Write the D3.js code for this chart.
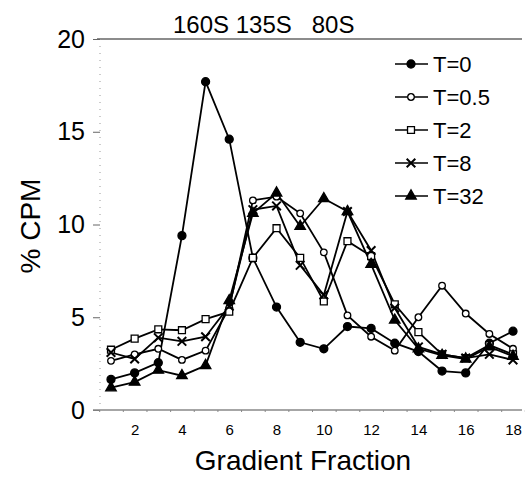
<!DOCTYPE html>
<html>
<head>
<meta charset="utf-8">
<script src="https://cdn.jsdelivr.net/npm/d3@7"></script>
<style>
  body { margin: 0; background: #fff; }
  svg { font-family: "Liberation Sans", Arial, sans-serif; }
</style>
</head>
<body>
<div id="vis"></div>
<script>
const fractions = [1, 2, 3, 4, 5, 6, 7, 8, 9, 10, 11, 12, 13, 14, 15, 16, 17, 18];
const t0   = [1.65, 2.0, 2.55, 9.4, 17.7, 14.6, 8.2, 5.55, 3.65, 3.3, 4.5, 4.4, 3.6, 3.15, 2.1, 2.0, 3.6, 4.25];
const t05  = [2.65, 3.0, 3.3, 2.7, 3.2, 5.5, 11.3, 11.5, 10.6, 8.5, 5.1, 3.95, 3.2, 5.0, 6.7, 5.2, 4.1, 3.3];
const t2   = [3.25, 3.85, 4.35, 4.3, 4.9, 5.3, 8.2, 9.8, 8.2, 5.85, 9.1, 8.3, 5.7, 4.2, 3.0, 2.8, 3.5, 3.0];
const t8   = [3.1, 2.75, 3.9, 3.7, 3.95, 5.6, 10.8, 11.0, 7.8, 6.2, 10.7, 8.6, 5.5, 3.4, 3.0, 2.8, 3.0, 2.7];
const t32  = [1.2, 1.5, 2.15, 1.85, 2.4, 5.9, 10.6, 11.7, 9.9, 11.4, 10.7, 7.85, 4.85, 3.3, 2.95, 2.75, 3.4, 2.9];
const seriesNames = ['T=0', 'T=0.5', 'T=2', 'T=8', 'T=32'];
const yTicks = [0, 5, 10, 15, 20];
const xLabels = [2, 4, 6, 8, 10, 12, 14, 16, 18];
const peaks = ['160S', '135S', '80S'];

const width = 525;
const height = 477;

const svg = d3.select('#vis')
  .append('svg')
  .attr('width', width)
  .attr('height', height);

// scales
const x = d3.scaleLinear().domain([1, 18]).range([111, 513]);
const y = d3.scaleLinear().domain([0, 20]).range([410, 39]);

// frame lines
svg.append('line')
  .attr('x1', 97).attr('x2', 522)
  .attr('y1', y(20)).attr('y2', y(20))
  .attr('stroke', '#666').attr('stroke-width', 1.5);

svg.append('line')
  .attr('x1', 100).attr('x2', 100)
  .attr('y1', y(20)).attr('y2', y(0))
  .attr('stroke', '#999').attr('stroke-width', 1)
  .attr('stroke-dasharray', '1,6');

// y axis
const yAxis = svg.append('g')
  .attr('transform', 'translate(100,0)')
  .call(d3.axisLeft(y).tickValues(yTicks).tickSize(7).tickPadding(8));
yAxis.select('.domain').remove();
yAxis.selectAll('line').attr('stroke', '#666');
yAxis.selectAll('text')
  .attr('font-size', 25)
  .attr('font-family', '"Liberation Sans", Arial, sans-serif')
  .attr('fill', '#000');

// x axis (ticks between fractions)
const halfTicks = d3.range(0.5, 19, 1);
const xAxis = svg.append('g')
  .attr('transform', 'translate(0,' + y(0) + ')')
  .call(d3.axisBottom(x).tickValues(halfTicks).tickSize(2).tickFormat(''));
xAxis.select('.domain')
  .attr('d', 'M93,0H522')
  .attr('stroke', '#888').attr('stroke-width', 1.5);
xAxis.selectAll('line').attr('stroke', '#888');

const xLab = svg.append('g')
  .attr('transform', 'translate(0,' + y(0) + ')')
  .call(d3.axisBottom(x).tickValues(xLabels).tickSize(0).tickPadding(14));
xLab.select('.domain').remove();
xLab.selectAll('text')
  .attr('font-size', 15)
  .attr('font-family', '"Liberation Sans", Arial, sans-serif')
  .attr('fill', '#000');

// axis titles
svg.append('text')
  .attr('x', 303).attr('y', 470)
  .attr('text-anchor', 'middle')
  .attr('font-size', 28)
  .text('Gradient Fraction');

svg.append('text')
  .attr('transform', 'translate(40,226) rotate(-90)')
  .attr('text-anchor', 'middle')
  .attr('font-size', 28)
  .text('% CPM');

// sedimentation markers along the top
svg.append('text')
  .attr('x', 173).attr('y', 33)
  .attr('font-size', 24)
  .attr('xml:space', 'preserve')
  .text(peaks[0] + ' ' + peaks[1] + '   ' + peaks[2]);

// marker styles
const symbols = [
  { type: d3.symbolCircle, size: 50, fill: '#000' },
  { type: d3.symbolCircle, size: 34, fill: '#fff' },
  { type: d3.symbolSquare, size: 48, fill: '#fff' },
  { type: d3.symbolX, size: 50, fill: 'none' },
  { type: d3.symbolTriangle, size: 48, fill: '#000' }
];

const allSeries = [t0, t05, t2, t8, t32];

const line = d3.line()
  .x(function(d, i) { return x(fractions[i]); })
  .y(function(d) { return y(d); });

allSeries.forEach(function(vals, s) {
  svg.append('path')
    .datum(vals)
    .attr('fill', 'none')
    .attr('stroke', '#000')
    .attr('stroke-width', 1.8)
    .attr('d', line);
});

allSeries.forEach(function(vals, s) {
  const sym = symbols[s];
  svg.append('g').selectAll('path')
    .data(vals)
    .join('path')
    .attr('transform', function(d, i) { return 'translate(' + x(fractions[i]) + ',' + y(d) + ')'; })
    .attr('d', d3.symbol().type(sym.type).size(sym.size))
    .attr('fill', sym.fill)
    .attr('stroke', '#000')
    .attr('stroke-width', s === 3 ? 2 : 1.3);
});

// legend
const legend = svg.append('g');
seriesNames.forEach(function(name, i) {
  const ly = 64 + i * 33;
  const sym = symbols[i];
  legend.append('line')
    .attr('x1', 395).attr('x2', 428)
    .attr('y1', ly).attr('y2', ly)
    .attr('stroke', '#000').attr('stroke-width', 1.5);
  legend.append('path')
    .attr('transform', 'translate(411,' + ly + ')')
    .attr('d', d3.symbol().type(sym.type).size(sym.size))
    .attr('fill', sym.fill)
    .attr('stroke', '#000')
    .attr('stroke-width', i === 3 ? 2 : 1.3);
  legend.append('text')
    .attr('x', 433).attr('y', ly + 8)
    .attr('font-size', 22)
    .text(name);
});
</script>
</body>
</html>
